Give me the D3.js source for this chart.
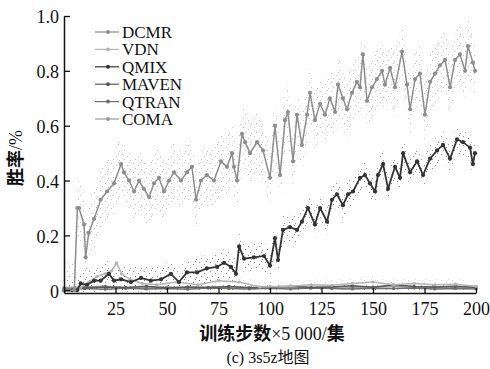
<!DOCTYPE html>
<html>
<head>
<meta charset="utf-8">
<script src="https://cdn.jsdelivr.net/npm/d3@7"></script>
<style>
  body { margin: 0; background: #fff; }
  svg { display: block; }
  .tick text { font-family: "Liberation Serif", serif; font-size: 18px; fill: #111; }
</style>
</head>
<body>
<div id="chart"></div>
<script>
// win rate curves, x = training steps (x5000 episodes)
var seriesNames = ["DCMR", "VDN", "QMIX", "MAVEN", "QTRAN", "COMA"];

var dcmrX = [0, 5, 6.5, 7.3, 9.7, 10.5, 12, 14.6, 17.8, 20.9, 24.3, 27.7, 29.1, 31.6, 34, 36.4, 38.8, 41.3, 43.7, 46.1, 48.5, 51, 53.4, 56.8, 59.7, 62.1, 64.1, 66.5, 69.4, 72.8, 76.2, 79.1, 81.6, 82.5, 84, 86.4, 87.9, 90.3, 93.7, 96.6, 100, 102.4, 104.9, 107.3, 108.7, 111.2, 113.1, 115.5, 118, 119.4, 121.8, 124.3, 126.7, 129.1, 131.6, 133, 135.4, 137.4, 139.8, 142.2, 143.7, 145.1, 147.1, 149.5, 151.9, 154.4, 155.8, 158.3, 160.7, 164.1, 166.5, 168, 170.4, 172.8, 175.2, 177.7, 180.1, 182.5, 185, 187.4, 189.8, 192.2, 194.7, 196.1, 198.5, 199.5];
var dcmrY = [0, 0, 0.30, 0.30, 0.24, 0.12, 0.21, 0.26, 0.33, 0.36, 0.39, 0.46, 0.43, 0.40, 0.36, 0.40, 0.37, 0.34, 0.39, 0.41, 0.36, 0.40, 0.43, 0.40, 0.43, 0.45, 0.33, 0.40, 0.42, 0.40, 0.47, 0.45, 0.50, 0.45, 0.40, 0.57, 0.54, 0.50, 0.54, 0.51, 0.41, 0.60, 0.42, 0.62, 0.65, 0.47, 0.64, 0.53, 0.64, 0.72, 0.62, 0.68, 0.64, 0.70, 0.65, 0.75, 0.70, 0.66, 0.72, 0.76, 0.74, 0.86, 0.69, 0.74, 0.77, 0.80, 0.75, 0.81, 0.74, 0.87, 0.75, 0.66, 0.77, 0.79, 0.64, 0.76, 0.79, 0.82, 0.84, 0.74, 0.84, 0.86, 0.80, 0.89, 0.83, 0.80];

var qmixX = [0, 4, 6.3, 8.1, 11.2, 14.6, 17.8, 21.8, 24.3, 27.7, 32.5, 37.4, 42.2, 47.1, 51.9, 55.8, 59.7, 64.6, 69.4, 74.3, 77.7, 81.1, 83.5, 85, 87.4, 92.2, 97.1, 100, 102.4, 103.9, 106.3, 109.7, 113.1, 115.5, 118.4, 121.8, 124.3, 127.7, 130.1, 132.5, 135.4, 137.9, 140.3, 143.7, 146.1, 148.5, 151, 152.4, 154.9, 157.3, 160.7, 163.1, 164.6, 168, 171.4, 174.3, 177.7, 181.1, 184, 187.4, 190.8, 193.7, 197.1, 198.5, 199.5];
var qmixY = [0, 0, 0, 0.025, 0.02, 0.035, 0.035, 0.06, 0.035, 0.04, 0.03, 0.045, 0.035, 0.04, 0.06, 0.03, 0.065, 0.065, 0.08, 0.085, 0.10, 0.085, 0.06, 0.16, 0.115, 0.12, 0.125, 0.09, 0.19, 0.11, 0.22, 0.23, 0.22, 0.25, 0.30, 0.24, 0.30, 0.25, 0.33, 0.35, 0.31, 0.35, 0.36, 0.41, 0.42, 0.39, 0.36, 0.42, 0.46, 0.37, 0.45, 0.41, 0.50, 0.43, 0.47, 0.42, 0.48, 0.51, 0.53, 0.48, 0.55, 0.54, 0.52, 0.46, 0.50];

var vdnX = [0, 8, 12, 16, 20, 23, 25.5, 28, 32, 38, 45, 55, 65, 75, 85, 95, 110, 120, 130, 140, 150, 160, 170, 180, 190, 200];
var vdnY = [0, 0.01, 0.03, 0.05, 0.06, 0.07, 0.10, 0.06, 0.04, 0.025, 0.02, 0.03, 0.02, 0.035, 0.03, 0.012, 0.015, 0.02, 0.018, 0.025, 0.03, 0.02, 0.025, 0.02, 0.022, 0.015];

var mavenX = [0, 10, 20, 30, 40, 50, 60, 70, 80, 90, 100, 110, 120, 130, 140, 150, 160, 170, 180, 190, 200];
var mavenY = [0, 0.008, 0.012, 0.01, 0.015, 0.008, 0.012, 0.01, 0.014, 0.009, 0.012, 0.015, 0.01, 0.012, 0.016, 0.011, 0.02, 0.014, 0.012, 0.015, 0.01];

var qtranX = [0, 10, 20, 30, 40, 50, 60, 70, 80, 90, 100, 110, 120, 130, 140, 150, 160, 170, 180, 190, 200];
var qtranY = [0.005, 0.006, 0.004, 0.007, 0.005, 0.006, 0.004, 0.008, 0.006, 0.005, 0.007, 0.005, 0.008, 0.006, 0.005, 0.007, 0.006, 0.008, 0.005, 0.006, 0.005];

var comaX = [0, 10, 20, 30, 40, 50, 60, 70, 80, 90, 100, 110, 120, 130, 140, 150, 160, 170, 180, 190, 200];
var comaY = [0.01, 0.012, 0.015, 0.01, 0.008, 0.012, 0.009, 0.011, 0.013, 0.01, 0.009, 0.012, 0.01, 0.013, 0.011, 0.012, 0.015, 0.01, 0.012, 0.011, 0.013];

// rough spread of the seed scatter around each curve
var seriesSpread = [0.11, 0.02, 0.05, 0.012, 0.008, 0.01];

var xTicks = [25, 50, 75, 100, 125, 150, 175, 200];
var yTicks = [0, 0.2, 0.4, 0.6, 0.8, 1.0];

var seriesX = [dcmrX, vdnX, qmixX, mavenX, qtranX, comaX];
var seriesY = [dcmrY, vdnY, qmixY, mavenY, qtranY, comaY];
var colors = ["#8e8e8e", "#b4b4b4", "#333333", "#5a5a5a", "#6e6e6e", "#9a9a9a"];

var W = 490, H = 369;
var margin = { top: 16, right: 14, bottom: 76, left: 64 };

var svg = d3.select("#chart").append("svg")
  .attr("width", W).attr("height", H);

var x = d3.scaleLinear().domain([0, 200]).range([margin.left, W - margin.right]);
var y = d3.scaleLinear().domain([-0.01, 1.0]).range([H - margin.bottom, margin.top]);

// speckle patterns for the scatter bands
var defs = svg.append("defs");
seriesNames.forEach(function(n, i) {
  var p = defs.append("pattern")
    .attr("id", "speck" + i)
    .attr("width", 11).attr("height", 9)
    .attr("patternUnits", "userSpaceOnUse");
  [[1, 1], [6, 3], [3, 6], [9, 7], [8, 0]].forEach(function(c) {
    p.append("rect").attr("x", c[0]).attr("y", c[1])
      .attr("width", 1).attr("height", 1)
      .attr("fill", colors[i]).attr("opacity", 0.55);
  });
});

var plot = svg.append("g");

// draw order: flat ones first, then QMIX, then DCMR
var order = [5, 4, 3, 1, 2, 0];
order.forEach(function(i) {
  var pts = seriesX[i].map(function(v, k) { return [v, seriesY[i][k]]; });
  var s = seriesSpread[i];
  plot.append("path")
    .datum(pts)
    .attr("fill", "url(#speck" + i + ")")
    .attr("d", d3.area()
      .x(function(d) { return x(d[0]); })
      .y0(function(d) { return y(Math.max(-0.005, d[1] - s)); })
      .y1(function(d) { return y(Math.min(1, d[1] + s)); }));
});
order.forEach(function(i) {
  var pts = seriesX[i].map(function(v, k) { return [v, seriesY[i][k]]; });
  plot.append("path")
    .datum(pts)
    .attr("fill", "none")
    .attr("stroke", colors[i])
    .attr("stroke-width", i == 2 ? 1.8 : 1.5)
    .attr("d", d3.line()
      .x(function(d) { return x(d[0]); })
      .y(function(d) { return y(d[1]); }));
  plot.selectAll(null)
    .data(pts)
    .enter().append("circle")
    .attr("cx", function(d) { return x(d[0]); })
    .attr("cy", function(d) { return y(d[1]); })
    .attr("r", i == 2 || i == 0 ? 2.1 : 1.6)
    .attr("fill", colors[i]);
});

// axes
var xAxis = svg.append("g")
  .attr("transform", "translate(0," + (H - margin.bottom) + ")")
  .call(d3.axisBottom(x).tickValues(xTicks).tickSizeInner(-5).tickSizeOuter(0).tickPadding(9));
var yAxis = svg.append("g")
  .attr("transform", "translate(" + margin.left + ",0)")
  .call(d3.axisLeft(y).tickValues(yTicks).tickSizeInner(-6).tickSizeOuter(0).tickPadding(5)
    .tickFormat(function(d) { return d == 0 ? "0" : d3.format(".1f")(d); }));
[xAxis, yAxis].forEach(function(a) {
  a.select(".domain").attr("stroke", "#111").attr("stroke-width", 1.5);
  a.selectAll(".tick line").attr("stroke", "#111").attr("stroke-width", 1.3);
});
yAxis.selectAll(".tick text").attr("dy", "0.38em");

// legend
var leg = svg.append("g").attr("transform", "translate(95,32)");
seriesNames.forEach(function(n, i) {
  var g = leg.append("g").attr("transform", "translate(0," + (i * 17.4) + ")");
  g.append("line").attr("x1", 0).attr("x2", 24).attr("y1", 0).attr("y2", 0)
    .attr("stroke", colors[i]).attr("stroke-width", 1.2);
  g.append("circle").attr("cx", 13).attr("cy", 0).attr("r", 2).attr("fill", colors[i]);
  g.append("text").attr("x", 27).attr("y", 6)
    .style("font-family", "Liberation Serif, serif").style("font-size", "17px")
    .attr("fill", "#111").text(n);
});

// axis titles
svg.append("text")
  .attr("transform", "translate(22,158) rotate(-90)")
  .attr("text-anchor", "middle")
  .style("font-size", "18px")
  .attr("fill", "#111")
  .call(function(t) {
    t.append("tspan").style("font-family", "Noto Sans CJK SC").style("font-weight", "bold").text("胜率");
    t.append("tspan").style("font-family", "Liberation Serif, serif").text("/%");
  });

svg.append("text")
  .attr("x", 272).attr("y", 340)
  .attr("text-anchor", "middle")
  .style("font-size", "18px")
  .attr("fill", "#111")
  .call(function(t) {
    t.append("tspan").style("font-family", "Noto Sans CJK SC").style("font-weight", "bold").text("训练步数");
    t.append("tspan").style("font-family", "Liberation Serif, serif").text("×5 000/");
    t.append("tspan").style("font-family", "Noto Sans CJK SC").style("font-weight", "bold").text("集");
  });

svg.append("text")
  .attr("x", 268).attr("y", 363)
  .attr("text-anchor", "middle")
  .style("font-size", "16px")
  .attr("fill", "#111")
  .call(function(t) {
    t.append("tspan").style("font-family", "Liberation Serif, serif").text("(c) 3s5z");
    t.append("tspan").style("font-family", "Noto Sans CJK SC").text("地图");
  });
</script>
</body>
</html>
